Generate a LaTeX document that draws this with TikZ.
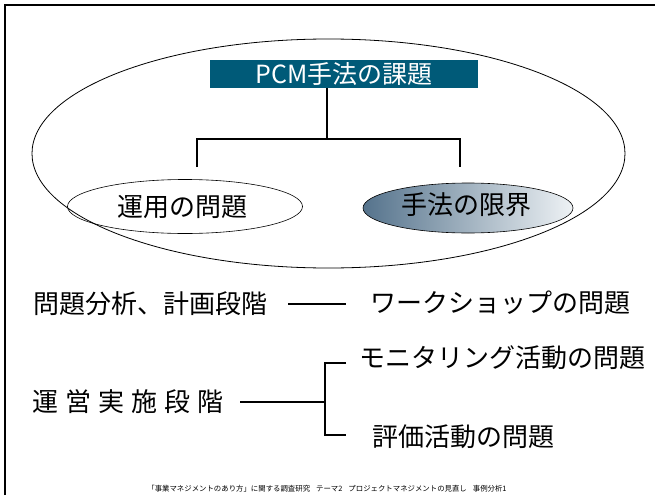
\documentclass[tikz,border=0pt]{standalone}
\usepackage{fontspec}
\setmainfont{Noto Sans CJK JP}
\newfontfamily\jp{Noto Sans CJK JP}
\definecolor{titleblue}{RGB}{0,90,120}
\definecolor{shadedark}{RGB}{85,115,140}
\definecolor{shadelight}{RGB}{238,242,245}
\begin{document}
\begin{tikzpicture}[x=1pt,y=-1pt,
  txt/.style={inner sep=0pt,font=\jp\fontsize{26}{29}\selectfont},
  conn/.style={line width=1.6pt},
]
\useasboundingbox (0,0) rectangle (655,495);
% frame (top and left only visible)
\draw[line width=1.6pt] (5,495) -- (5,5) -- (655,5);
% big ellipse
\draw[line width=0.8pt] (328.5,153.5) ellipse [x radius=296.5, y radius=114.5];
% title box
\node[fill=titleblue,minimum width=268pt,minimum height=28pt,inner sep=0pt,
      text=white,font=\jp\fontsize{25}{27}\selectfont] (title) at (344,74) {PCM手法の課題\hspace{20pt}};
% small ellipses
\draw[line width=0.6pt] (185,206.5) ellipse [x radius=117.5, y radius=27];
\node[txt] (unyo) at (182,207) {運用の問題};
\shade[left color=shadedark,right color=shadelight,draw=black,line width=0.6pt]
  (468,208) ellipse [x radius=105, y radius=25];
\node[txt] (genkai) at (466,205) {手法の限界};
% tree connector
\coordinate (j) at (327,139);
\coordinate (jl) at (197,139);
\coordinate (jr) at (460,139);
\draw[conn] (title.south -| j) -- (j);
\draw[conn] (197,167) -- (jl) -- (jr) -- (460,167);
% lower part
\node[txt,anchor=west] (bunseki) at (33,304) {問題分析、計画段階};
\node[txt,anchor=west] (ws) at (370,303) {ワークショップの問題};
\draw[conn] (288,304) -- (346,304);
\node[txt,anchor=west] (unei) at (32,402) {運\hspace{7pt}営\hspace{7pt}実\hspace{7pt}施\hspace{7pt}段\hspace{7pt}階};
\coordinate (b) at (325,402);
\draw[conn] (240,402) -- (b);
\draw[conn] (346,363) -- (325,363) -- (325,435) -- (346,435);
\node[txt,anchor=west] (moni) at (359,358) {モニタリング活動の問題};
\node[txt,anchor=west] (hyoka) at (372,437) {評価活動の問題};
% footer
\node[inner sep=0pt,font=\jp\fontsize{7.4}{9}\selectfont] (foot) at (327,489)
  {「事業マネジメントのあり方」に関する調査研究\hspace{6pt}テーマ2\hspace{6pt}プロジェクトマネジメントの見直し\hspace{6pt}事例分析1};
\end{tikzpicture}
\end{document}
